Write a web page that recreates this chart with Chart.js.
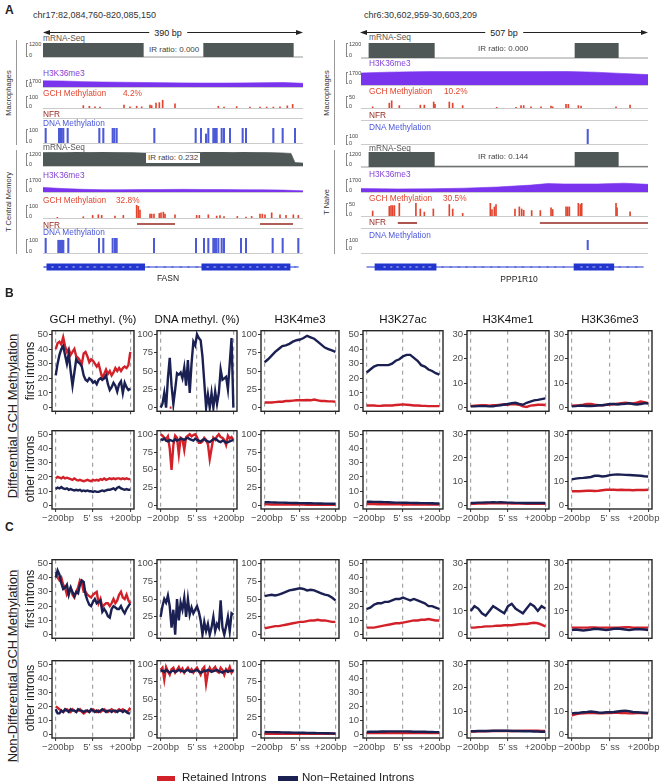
<!DOCTYPE html>
<html><head><meta charset="utf-8">
<script src="https://cdn.jsdelivr.net/npm/chart.js@4.4.0/dist/chart.umd.min.js"></script>
<style>
html,body{margin:0;padding:0;background:#fff;}
#root{position:relative;width:662px;height:784px;overflow:hidden;font-family:"Liberation Sans",Arial,Helvetica,sans-serif;color:#222;background:#fff;}
.t{position:absolute;white-space:nowrap;line-height:1;}
canvas{position:absolute;}
.ln{position:absolute;}
</style></head><body><div id="root"></div>
<script>
// ================= DATA =================
// ---- Panel A: FASN (left, 390 bp) ----
const MRNA_MAC_L_X=[0,0,150,150,241,241,375,375,390];
const MRNA_MAC_L_Y=[0,1200,1200,0,0,1200,1200,0,0];
const MRNA_TCM_L_X=[0,15,30,50,70,90,110,130,150,170,190,210,230,241,255,270,285,300,320,340,360,372,378,390];
const MRNA_TCM_L_Y=[1150,1180,1160,1190,1170,1200,1180,1160,1120,1090,1100,1120,1150,1200,1190,1200,1180,1190,1170,1150,1120,1080,300,250];
const H3_L_X=[0,30,60,90,120,150,180,210,240,270,300,330,360,390];
const H3_MAC_L_Y=[1500,1450,1300,1200,1150,1100,1050,1000,950,950,1000,1050,1100,900];
const H3_TCM_L_Y=[600,450,350,300,300,320,330,350,330,320,300,280,250,150];
const GCH_MAC_L_X=[60.5,69.5,78,85.5,121.5,130.5,140.5,148,160.5,163,169.5,174.5,179.5,198,263,271.5,290.5,310.5,325.5,335.5,345.5,355.5,366.5,374.5];
const GCH_MAC_L_Y=[20,15,10,8,25,10,15,10,25,20,40,45,65,35,15,8,12,8,8,8,8,10,18,30];
const GCH_TCM_L_X=[21.5,60.5,74.5,83,88,108,120.5,140.5,143,145.5,160.5,163,166.5,174.5,177,180.5,183,198,230.5,234.5,248,260.5,265.5,271.5,291.5,304.5,313,325.5,329,333,343,355.5,364.5,375.5,383];
const GCH_TCM_L_Y=[5,10,20,25,20,15,20,100,90,60,30,30,30,35,40,45,30,25,20,20,25,15,18,10,12,8,12,30,30,25,40,25,20,25,20];
const DNA_MAC_L_X=[4,24,26,28,30.5,37,84.5,90.5,104.5,107,110.5,167,229,237,244.5,248,255.5,258,260.5,268,271.5,280.5,299.5,304.5,345.5,359.5,378];
const DNA_MAC_L_Y=[100,100,100,100,100,100,100,100,100,100,100,100,100,100,60,100,100,100,100,100,100,100,100,100,100,100,100];
const DNA_TCM_L_X=[4,23,24.5,26.5,28.5,30.5,38,84,90.5,104.5,108,110.5,166.5,229.5,241.5,248,255.5,257,259.5,263,268,271.5,297,304.5,344.5,359.5,383];
const DNA_TCM_L_Y=[100,85,85,85,85,85,100,100,100,100,100,100,100,100,100,100,100,100,100,100,100,100,100,100,100,100,100];
const NFR_TCM_L=[[141,198],[325.5,375]];
const GENE_L_LINE=[-6,391];
const GENE_L_EXONS=[[-2,151.5],[239.5,378]];
const GENE_L_CHEV_IN=[8,19,30,41,52,63,74,85,96,107,118,129,140,250,261,272,283,294,305,316,327,338,349,360,371];
const GENE_L_CHEV_OUT=[-5,158,170,183,195,208,220,233,386];
// ---- Panel A: PPP1R10 (right, 507 bp) ----
const MRNA_MAC_R_X=[0,14,14,129,129,378,378,454,454,507];
const MRNA_MAC_R_Y=[0,0,1200,1200,0,0,1200,1200,0,0];
const MRNA_TN_R_Y=[0,0,1200,1200,70,70,1200,1200,50,50];
const H3_MAC_R_X=[0,46,92,138,184,230,276,322,368,414,460,507];
const H3_MAC_R_Y=[1500,1600,1650,1700,1700,1700,1700,1700,1680,1600,1450,1300];
const H3_TN_R_X=[0,65,124,182,241,300,330,359,418,465,507];
const H3_TN_R_Y=[450,400,420,500,650,900,1100,1050,1050,1150,1000];
const GCH_MAC_R_X=[20.6,50,54.2,67.7,104.8,111.9,128.4,130.7,156,162,179.6,239.7,273.8,282.7,287.4,300.3,318,335.7,338.6,362.2,366.3,384,388.7,450.5,475.3];
const GCH_MAC_R_Y=[5,20,30,10,12,12,25,15,25,20,10,3,3,10,10,5,5,8,5,15,15,10,8,5,12];
const GCH_TN_R_X=[20.6,50,53,56,59,67.7,97,104.8,111.9,127.8,156,162,179.6,228.5,231.4,235.6,238.5,272,279.7,283.8,287.4,301.5,316.8,335.7,338.6,362.2,365.1,368.1,384,387.5,389.9,450.5,452.3,475.3];
const GCH_TN_R_Y=[19,37,40,40,40,50,50,27,15,27,44,27,10,50,25,35,44,27,35,27,22,21,21,31,25,35,35,35,50,44,50,50,31,16];
const DNA_R_X=[400.5];
const DNA_MAC_R_Y=[100];
const DNA_TN_R_Y=[100];
const NFR_TN_R=[[65,99],[316,507]];
const GENE_R_LINE=[1,508];
const GENE_R_EXONS=[[16,129],[380,454]];
const GENE_R_CHEV_IN=[35,47,59,71,82,94,106,118,395,406,418,430,442];
const GENE_R_CHEV_OUT=[141,156,171,185,200,215,230,244,259,274,288,303,318,333,347,362,465,480,495];

// ---- Panels B & C ----
const POS41=[-200,-190,-180,-170,-160,-150,-140,-130,-120,-110,-100,-90,-80,-70,-60,-50,-40,-30,-20,-10,0,10,20,30,40,50,60,70,80,90,100,110,120,130,140,150,160,170,180,190,200];
const POS21=[-200,-180,-160,-140,-120,-100,-80,-60,-40,-20,0,20,40,60,80,100,120,140,160,180,200];
const COL_TITLES=['GCH methyl. (%)','DNA methyl. (%)','H3K4me3','H3K27ac','H3K4me1','H3K36me3'];
const Y_MAX=[50,100,100,50,30,30];
const Y_TICKS=[[0,10,20,30,40,50],[0,25,50,75,100],[0,25,50,75,100],[0,10,20,30,40,50],[0,10,20,30],[0,10,20,30]];
const X_TICKS=[-200,0,200];
const X_TICK_LABELS=['\u2002\u2212200bp','5\u2019 ss','+200bp\u2002\u2002'];
const SERIES_NAMES=['Retained Introns','Non\u2212Retained Introns'];

// B: differential, first introns
const B1_RET_GCH=[40,44,45,43,48,42,38,40,36,38,40,35,34,32,30,37,38,35,31,33,32,30,28,30,25,20,23,26,23,25,22,24,27,25,27,25,27,28,27,29,38];
const B1_NON_GCH=[22,30,36,40,42,36,30,37,25,15,24,33,31,30,28,22,19,18,20,19,17,18,16,19,20,19,20,22,16,12,14,17,15,11,16,18,10,17,14,12,13];
const B1_RET_DNA=[null,null,null,null,null,0,0,null,null,null,null,null,null,null,null,null,null,null,null,null,null,null,null,null,null,null,null,null,null,null,null,null,null,null,null,null,null,null,null,null,null];
const B1_NON_DNA=[0,5,20,0,40,68,30,5,25,47,45,48,40,55,30,65,20,60,90,85,100,95,92,70,35,0,18,0,20,0,22,5,20,52,38,40,42,25,60,95,0];
const B1_RET_K4ME3=[7,7,7,7.5,8,8,9,9,9.5,10,10,10,10.5,10,11,10,9,9,8.5,8.5,8];
const B1_NON_K4ME3=[62,66,71,76,80,84,85,87,90,92,93,95,98,96,94,90,86,82,80,78,76];
const B1_RET_K27AC=[1.5,1.5,1.5,1.2,1.3,1.5,1.5,1.5,1.8,2,2.2,2,1.8,1.5,1.5,1.3,1.2,1,1,1,1];
const B1_NON_K27AC=[24,26,28,29,29,29,29,30,32,33,35,36,36,34,32,29,28,26,25,23.5,22.5];
const B1_RET_K4ME1=[0.6,0.8,0.9,1,1,0.8,1,1,1.2,1.3,1.2,1.5,1.4,1.2,0.5,0.3,0.8,1,1.2,1.2,1.1];
const B1_NON_K4ME1=[0.5,0.5,0.6,0.6,0.6,0.5,0.5,0.8,1,1.3,1.5,1.8,2,1.5,1.2,2,2.5,3,3.2,3.5,3.8];
const B1_RET_K36ME3=[0.8,0.9,1,1.2,1.5,1.5,1.2,1,1,1.2,1.3,1.4,1.6,1.8,2,1.8,1.7,2,2.5,2.2,1.8];
const B1_NON_K36ME3=[0.5,0.6,0.8,0.8,0.7,0.7,0.8,1,1,1.2,1.5,1.5,1.3,1.5,1.6,1.8,1.5,1.3,1.5,1.8,1.8];
// B: differential, other introns
const B2_RET_GCH=[19,20,19.5,19,20,19,19.5,19,18.5,18,19,18,17.5,18,17.5,17,17.5,18,17.5,17,18,17.5,18,17.5,18.5,18,19,18,18.5,19,18.5,19,18.5,19,19,18.5,19,18.5,19,18.5,18.5];
const B2_NON_GCH=[11.5,12.5,12,13,12,11.5,12,11,11.5,11,10.5,11,10.5,11,10,10.5,10,10.5,10,10,9.5,10,9.5,9.5,10,10.5,10,10.5,11,11,11.5,12,11,12.5,13,12,11.5,11,11.5,11,11];
const B2_RET_DNA=[100,98,95,93,97,80,50,85,98,95,72,95,93,78,96,98,100,97,99,100,96,88,88,90,95,92,86,65,80,95,92,97,100,96,95,92,85,98,94,96,92];
const B2_NON_DNA=[93,92,94,91,90,92,91,90,93,91,92,94,93,92,94,95,93,92,91,94,92,91,90,92,93,91,90,89,91,93,94,92,90,89,91,90,88,89,90,91,92];
const B2_RET_K4ME3=[1.5,1.5,1.4,1.4,1.3,1.3,1.2,1.2,1.2,1.1,1.1,1.1,1,1,1,1,1,1,1,1,1];
const B2_NON_K4ME3=[4.5,4.4,4.3,4.2,4,3.9,3.8,3.6,3.5,3.4,3.3,3.2,3.1,3,2.9,2.8,2.7,2.6,2.5,2.4,2.3];
const B2_RET_K27AC=[0.9,0.9,0.9,0.8,0.8,0.8,0.8,0.8,0.8,0.8,0.7,0.7,0.7,0.7,0.7,0.7,0.7,0.7,0.7,0.7,0.7];
const B2_NON_K27AC=[2.6,2.6,2.5,2.5,2.4,2.3,2.2,2.1,2,2,1.9,1.9,1.8,1.7,1.7,1.6,1.6,1.5,1.5,1.4,1.4];
const B2_RET_K4ME1=[0.7,0.7,0.8,0.8,0.8,0.9,0.9,0.9,0.9,0.9,0.9,0.8,0.8,0.8,0.8,0.7,0.7,0.7,0.7,0.7,0.7];
const B2_NON_K4ME1=[1,1.1,1.2,1.2,1.3,1.3,1.4,1.3,1.4,1.3,1.2,1.2,1.1,1.1,1,1,1,1,1,1,1];
const B2_RET_K36ME3=[6,6,6,6.1,6.2,6.2,6.1,6.2,6.4,6.6,6.6,6.6,6.5,6.6,6.5,6.5,6.4,6.5,6.5,6.5,6.6];
const B2_NON_K36ME3=[11,11.3,11.5,11.6,11.8,12,12.5,12.5,12.2,12.4,12.8,13,13.1,13,12.9,12.8,12.7,12.6,12.5,12.3,12.2];
// C: non-differential, first introns
const C1_RET_GCH=[44,40,38,40,35,33,28,30,33,28,26,30,33,38,36,30,30,28,27,26,28,29,30,22,25,19,21,22,22,20,22,25,22,24,28,30,26,25,28,24,22];
const C1_NON_GCH=[40,45,42,36,32,33,35,28,33,30,27,30,29,35,38,37,28,24,21,20,23,25,22,23,24,16,18,16,13,12,18,20,19,18,18,20,17,15,18,20,22];
const C1_RET_DNA=[null,null,null,null,null,null,null,null,null,null,null,null,null,null,null,null,null,null,null,null,null,null,null,null,null,null,null,null,null,null,null,null,null,null,null,null,null,null,null,null,null];
const C1_NON_DNA=[25,40,50,45,55,40,10,35,0,50,20,45,35,52,25,50,28,38,30,35,40,32,20,0,18,5,15,0,10,25,5,15,10,48,10,0,12,25,5,30,28];
const C1_RET_K4ME3=[9,10,11,12,12,13,14,15,16,17,18,18,19,20,20,21,20,20,19,18,18];
const C1_NON_K4ME3=[54,55,56,55,56,58,60,62,63,64,65,64,62,63,62,60,58,56,55,52,48];
const C1_RET_K27AC=[5,5,5,5.5,6,6.5,7,7.5,8,8,8.5,9,9.5,10,10,10.5,10.5,11,10.5,10,10];
const C1_NON_K27AC=[18,19,21,22,22,23,23,24,25,25,26,25,24,25,24,23,22,20,20,19,18];
const C1_RET_K4ME1=[3,3,3.2,3.3,3.5,3.5,3.6,3.8,3.8,4,4,4,4.2,4.4,4.5,4.5,4.8,5,4.8,4.2,3.5];
const C1_NON_K4ME1=[10,12,11,9,8,10,12,11,10,9,12,13,11,10,9,11,13,12,10,12,11];
const C1_RET_K36ME3=[3,3,3,3,3,3.1,3.1,3,3,3,3,3,3,3.1,3.2,3.2,3,3,3,3,3];
const C1_NON_K36ME3=[2,2.2,2,1.8,2,2.2,2.5,2.4,2.2,2,2.2,2.5,2.6,2.4,2.2,2,2.2,2.4,2.3,2.2,2];
// C: non-differential, other introns
const C2_RET_GCH=[20,19,18,17,16,17,18,17,16,18,17,16,17,18,16,15,16,17,16,17,18,17,16,17,16,17,18,17,16,17,18,17,16,17,18,17,18,17,16,17,19];
const C2_NON_GCH=[18,15,15,17,16,18,17,16,18,17,17,16,18,17,17,16,17,17,16,18,17,16,17,16,17,18,17,16,17,17,16,17,17,16,17,17,16,17,16,15,15];
const C2_RET_DNA=[92,95,78,96,90,85,93,95,88,92,96,90,94,88,92,95,90,93,88,92,95,90,85,93,96,72,88,95,90,93,96,90,88,95,92,85,93,90,96,88,92];
const C2_NON_DNA=[90,91,89,92,90,88,90,91,89,90,92,91,90,89,91,92,90,89,90,91,92,90,88,89,91,90,92,91,89,90,91,92,90,89,88,90,91,89,90,91,90];
const C2_RET_K4ME3=[1,1,1,1,1,1,1,1,1,1,1,1,1,1,1,1,1,1,1,1,1];
const C2_NON_K4ME3=[3.5,3.4,3.3,3.2,3.1,3,2.9,2.8,2.7,2.6,2.5,2.4,2.3,2.2,2.1,2,1.9,1.8,1.7,1.6,1.5];
const C2_RET_K27AC=[1,1,1,1,1.1,1.1,1.1,1.1,1.1,1.1,1.1,1.1,1,1,1,1,1,1,1,1,1];
const C2_NON_K27AC=[1.8,1.9,2,2,2.1,2.1,2.2,2.2,2.2,2.2,2.2,2.2,2.1,2,2,1.9,1.9,1.8,1.8,1.7,1.7];
const C2_RET_K4ME1=[1.3,1.3,1.4,1.4,1.4,1.5,1.5,1.5,1.5,1.5,1.5,1.5,1.5,1.5,1.6,1.6,1.6,1.6,1.6,1.5,1.5];
const C2_NON_K4ME1=[1.4,1.4,1.5,1.5,1.5,1.5,1.6,1.6,1.6,1.6,1.6,1.5,1.5,1.5,1.4,1.4,1.4,1.3,1.3,1.2,1.2];
const C2_RET_K36ME3=[8.2,8.6,8.9,9,9.1,9.2,9.1,9,9,9.1,9.2,9.3,9.3,9.2,9.1,9,9,9.1,9.1,9,9];
const C2_NON_K36ME3=[9,9.2,9.3,9.5,9.6,9.8,9.6,9.4,9.3,9.5,9.5,9.6,9.8,10,10.2,9.9,9.6,9.5,9.4,9.3,9.2];

// ================= RENDER =================
const FONT="'Liberation Sans', Arial, Helvetica, sans-serif";
const RED='#d3212a', NAVY='#1b2052';
const C_GRAY='#4f5856', C_PURPLE='#7a34ee', C_PURPLE_T='#8443d6', C_GCH='#e2452f', C_NFR='#962a20', C_DNA='#4c59d8', C_GENE='#2236cf';
const root=document.getElementById('root');
function T(x,y,s,o={}){const d=document.createElement('div');d.className='t';d.textContent=s;
  d.style.fontSize=(o.size||9)+'px';d.style.color=o.color||'#222';if(o.bold)d.style.fontWeight='bold';
  d.style.left=x+'px';d.style.top=y+'px';
  const tx=o.align==='center'?'-50%':(o.align==='right'?'-100%':'0');
  d.style.transform=o.rot?'translate(-50%,-50%) rotate(-90deg)':`translate(${tx},-50%)`;
  if(o.bg){d.style.background=o.bg;d.style.padding=o.pad||'1px 2px';}
  if(o.underline){d.style.textDecoration='underline';d.style.textDecorationColor='#777';}
  root.appendChild(d);return d;}
function L(x,y,w,h,c){const d=document.createElement('div');d.className='ln';Object.assign(d.style,{left:x+'px',top:y+'px',width:w+'px',height:h+'px',background:c});root.appendChild(d);return d;}
function cv(x,y,w,h){const c=document.createElement('canvas');c.width=w;c.height=h;Object.assign(c.style,{left:x+'px',top:y+'px',width:w+'px',height:h+'px'});root.appendChild(c);return c;}
function zip(xs,ys){return xs.map((v,i)=>({x:v,y:ys[i]}));}
function base(){return {responsive:false,maintainAspectRatio:false,animation:false,events:[],devicePixelRatio:1,
  plugins:{legend:{display:false},tooltip:{enabled:false}},layout:{padding:0}};}

// ---------- Panel A ----------
const AL={x:43,w:260,span:390}, AR={x:361,w:287,span:507};
function trackChart(col,top,h,ymin,ymax,datasets,type){
  const o=base();
  o.scales={x:{type:'linear',min:0,max:col.span,display:false,offset:false},y:{type:'linear',min:ymin,max:ymax,display:false}};
  return new Chart(cv(col.x,top,col.w,h),{type:type,data:{datasets},options:o});
}
function area(col,top,h,xs,ys,ymax,color){
  trackChart(col,top,h,0,ymax,[{type:'line',data:zip(xs,ys),fill:'origin',backgroundColor:color,borderColor:color,borderWidth:0.6,pointRadius:0,tension:0}],'line');
}
function bars(col,top,h,xs,ys,ymax,color,th){
  trackChart(col,top,h,0,ymax,[{type:'bar',data:zip(xs,ys),backgroundColor:color,barThickness:th,borderWidth:0}],'bar');
}
function nfr(col,top,segs){
  const ds=segs.map(s=>({type:'line',data:[{x:s[0],y:0},{x:s[1],y:0}],borderColor:C_NFR,borderWidth:1.6,pointRadius:0,borderCapStyle:'butt'}));
  trackChart(col,top,4,-1,1,ds,'line');
}
function sep(col,y){L(col.x,y,col.w,1,'#cbcbcb');}
function scaleLbl(bx,top,h,maxS){
  const d=L(bx,top,2,h,'transparent');d.style.border='0.8px solid #888';d.style.borderRight='none';d.style.boxSizing='border-box';
  T(bx+3,top+1.5,maxS,{size:5.5,color:'#444'});T(bx+3,top+h-1.5,'0',{size:5.5,color:'#444'});
}
function chev(color){const c=document.createElement('canvas');c.width=4;c.height=5;const g=c.getContext('2d');g.strokeStyle=color;g.lineWidth=0.9;g.beginPath();g.moveTo(3,0.5);g.lineTo(1,2.5);g.lineTo(3,4.5);g.stroke();return c;}
function gene(cx,cw,top,xmin,xmax,line,exons,chIn,chOut){
  const ds=[];
  ds.push({type:'line',showLine:false,data:chIn.map(v=>({x:v,y:0})),pointStyle:chev('#ffffff'),pointRadius:3});
  ds.push({type:'line',showLine:false,data:chOut.map(v=>({x:v,y:0})),pointStyle:chev(C_GENE),pointRadius:3});
  exons.forEach(e=>ds.push({type:'line',showLine:true,data:[{x:e[0],y:0},{x:e[1],y:0}],borderColor:C_GENE,borderWidth:7,borderCapStyle:'butt',pointRadius:0,clip:false}));
  ds.push({type:'line',showLine:true,data:[{x:line[0],y:0},{x:line[1],y:0}],borderColor:C_GENE,borderWidth:1.2,pointRadius:0});
  const o=base();o.scales={x:{type:'linear',min:xmin,max:xmax,display:false},y:{type:'linear',min:-1,max:1,display:false}};
  new Chart(cv(cx,top,cw,12),{type:'line',data:{datasets:ds},options:o});
}

// headings
T(5,10,'A',{size:12,bold:true});
T(33,15,'chr17:82,084,760-820,085,150',{size:9,color:'#333'});
T(364,15,'chr6:30,602,959-30,603,209',{size:9,color:'#333'});
function bpArrow(x1,x2,y,label,cx){
  L(x1+4,y,x2-x1-8,1,'#222');
  const s=document.createElementNS('http://www.w3.org/2000/svg','svg');
  s.setAttribute('width',662);s.setAttribute('height',60);s.style.position='absolute';s.style.left='0';s.style.top='0';
  s.innerHTML=`<polygon points="${x1},${y+0.5} ${x1+7},${y-2} ${x1+7},${y+3}" fill="#222"/><polygon points="${x2},${y+0.5} ${x2-7},${y-2} ${x2-7},${y+3}" fill="#222"/>`;
  root.appendChild(s);
  T(cx,y+0.5,label,{size:9,color:'#222',align:'center',bg:'#fff',pad:'0 5px'});
}
bpArrow(43,303,32,'390 bp',168);
bpArrow(360,648,32,'507 bp',504);

// row labels for A
function rowLab(x,lx,y1,y2,s){L(lx,y1,1,y2-y1,'#999');T(x,(y1+y2)/2,s,{size:7.5,color:'#333',rot:true});}
rowLab(9,16,40,145,'Macrophages');
rowLab(9,16,150,254,'T Central Memory');
rowLab(327,334,40,145,'Macrophages');
rowLab(327,334,150,254,'T Naive');

// ---- Left column ----
T(43,38,'mRNA-Seq',{size:8.3,color:'#555'});
area(AL,43,14,MRNA_MAC_L_X,MRNA_MAC_L_Y,1200,C_GRAY); sep(AL,57); scaleLbl(26,43,14,'1200');
T(147,50,'IR ratio: 0.000',{size:8,color:'#444',bg:'#fff'});
T(43,73,'H3K36me3',{size:8.3,color:C_PURPLE_T});
area(AL,80,7,H3_L_X,H3_MAC_L_Y,1700,C_PURPLE); sep(AL,87); scaleLbl(26,80,7,'1700');
T(43,93,'GCH Methylation',{size:8.3,color:C_GCH}); T(123,93,'4.2%',{size:8.3,color:C_GCH});
bars(AL,96,12,GCH_MAC_L_X,GCH_MAC_L_Y,100,C_GCH,1); sep(AL,108); scaleLbl(26,96,12,'100');
T(43,114,'NFR',{size:8.3,color:C_NFR}); sep(AL,118);
T(43,123,'DNA Methylation',{size:8.3,color:C_DNA});
bars(AL,128,15,DNA_MAC_L_X,DNA_MAC_L_Y,100,C_DNA,1.4); sep(AL,143); scaleLbl(26,129,14,'100');
T(43,147,'mRNA-Seq',{size:8.3,color:'#555'});
area(AL,152,14,MRNA_TCM_L_X,MRNA_TCM_L_Y,1200,C_GRAY); sep(AL,166); scaleLbl(26,153,13,'1200');
T(146,158,'IR ratio: 0.232',{size:8,color:'#444',bg:'#fff'});
T(43,175,'H3K36me3',{size:8.3,color:C_PURPLE_T});
area(AL,179,13,H3_L_X,H3_TCM_L_Y,1700,C_PURPLE); sep(AL,192); scaleLbl(26,179,13,'1700');
T(43,200,'GCH Methylation',{size:8.3,color:C_GCH}); T(116,200,'32.8%',{size:8.3,color:C_GCH});
bars(AL,205,13,GCH_TCM_L_X,GCH_TCM_L_Y,100,C_GCH,1); sep(AL,218); scaleLbl(26,205,13,'100');
T(43,225,'NFR',{size:8.3,color:C_NFR}); nfr(AL,222,NFR_TCM_L); sep(AL,228);
T(43,232,'DNA Methylation',{size:8.3,color:C_DNA});
bars(AL,238,15,DNA_TCM_L_X,DNA_TCM_L_Y,100,C_DNA,1.4); sep(AL,253); scaleLbl(26,239,14,'100');
gene(37,268,261,-9,393,GENE_L_LINE,GENE_L_EXONS,GENE_L_CHEV_IN,GENE_L_CHEV_OUT);
T(168,278,'FASN',{size:8.5,color:'#222',align:'center'});

// ---- Right column ----
T(369,37,'mRNA-Seq',{size:8.3,color:'#555'});
area(AR,43,15,MRNA_MAC_R_X,MRNA_MAC_R_Y,1200,C_GRAY); sep(AR,58); scaleLbl(346,43,14,'1200');
T(478,49,'IR ratio: 0.000',{size:8,color:'#444'});
T(369,63,'H3K36me3',{size:8.3,color:C_PURPLE_T});
area(AR,71,14,H3_MAC_R_X,H3_MAC_R_Y,1750,C_PURPLE); sep(AR,85); scaleLbl(346,72,12,'1700');
T(369,91,'GCH Methylation',{size:8.3,color:C_GCH}); T(444,91,'10.2%',{size:8.3,color:C_GCH});
bars(AR,96,12,GCH_MAC_R_X,GCH_MAC_R_Y,50,C_GCH,1); sep(AR,108); scaleLbl(346,96,12,'50');
T(369,115,'NFR',{size:8.3,color:C_NFR}); sep(AR,120);
T(369,127,'DNA Methylation',{size:8.3,color:C_DNA});
bars(AR,129,15,DNA_R_X,DNA_MAC_R_Y,100,C_DNA,1.4); sep(AR,144); scaleLbl(346,135,10,'100');
T(369,148,'mRNA-Seq',{size:8.3,color:'#555'});
area(AR,152,15,MRNA_MAC_R_X,MRNA_TN_R_Y,1200,C_GRAY); sep(AR,167); scaleLbl(346,153,13,'1200');
T(478,157,'IR ratio: 0.144',{size:8,color:'#444'});
T(369,174,'H3K36me3',{size:8.3,color:C_PURPLE_T});
area(AR,179,13,H3_TN_R_X,H3_TN_R_Y,1700,C_PURPLE); sep(AR,192); scaleLbl(346,179,13,'1700');
T(369,198,'GCH Methylation',{size:8.3,color:C_GCH}); T(443,198,'30.5%',{size:8.3,color:C_GCH});
bars(AR,203,13,GCH_TN_R_X,GCH_TN_R_Y,50,C_GCH,1); sep(AR,216); scaleLbl(346,203,13,'50');
T(369,222,'NFR',{size:8.3,color:C_NFR}); nfr(AR,221,NFR_TN_R); sep(AR,228);
T(369,235,'DNA Methylation',{size:8.3,color:C_DNA});
bars(AR,240,10,DNA_R_X,DNA_TN_R_Y,100,C_DNA,1.4); sep(AR,253); scaleLbl(346,239,11,'100');
gene(359,292,261,-3.5,512.3,GENE_R_LINE,GENE_R_EXONS,GENE_R_CHEV_IN,GENE_R_CHEV_OUT);
T(519,279,'PPP1R10',{size:8.5,color:'#222',align:'center'});

// ---------- Panels B & C ----------
const COLS=[[52,134],[157,237],[261,339],[363,443],[467,549],[568,652]];
const ROWS={B1:[329,413],B2:[429,509],C1:[558,640],C2:[659,738]};
const frame={id:'frame',afterDatasetsDraw(ch){const {ctx,chartArea:a}=ch;ctx.save();ctx.strokeStyle='#262626';ctx.lineWidth=1.4;ctx.strokeRect(a.left,a.top,a.right-a.left,a.bottom-a.top);ctx.restore();}};
function profile(col,rowKey,showX,ret,non){
  const [L0,R0]=COLS[col],[T0,B0]=ROWS[rowKey];
  const padL=30,padT=5,padR=20,xh=showX?16:5;
  const pos=ret.length===41?POS41:POS21;
  const ymax=Y_MAX[col];
  const o=base();
  o.layout={padding:{top:padT,right:padR,left:0,bottom:0}};
  o.scales={
    x:{type:'linear',min:-220,max:220,
      afterBuildTicks:a=>{a.ticks=X_TICKS.map(v=>({value:v}));},
      afterFit:a=>{a.height=xh;},
      grid:{display:true,drawOnChartArea:true,drawTicks:true,tickLength:3,color:'#a3a3a3',lineWidth:1.2,tickColor:'#333',tickWidth:1,tickBorderDash:[]},
      border:{display:false,dash:[4,4]},
      ticks:{display:showX,autoSkip:false,maxRotation:0,minRotation:0,padding:1,color:'#4d4d4d',font:{size:9.5,family:FONT},
        callback:(v)=>X_TICK_LABELS[X_TICKS.indexOf(v)]}},
    y:{type:'linear',min:-ymax*0.05,max:ymax*1.05,
      afterBuildTicks:a=>{a.ticks=Y_TICKS[col].map(v=>({value:v}));},
      afterFit:a=>{a.width=padL;},
      grid:{display:true,drawOnChartArea:false,drawTicks:true,tickLength:3,tickColor:'#333'},
      border:{display:false},
      ticks:{autoSkip:false,padding:1,color:'#4d4d4d',font:{size:9.5,family:FONT}}}
  };
  const ds=[
    {label:SERIES_NAMES[1],data:zip(pos,non),borderColor:NAVY,borderWidth:2.4,pointRadius:0,tension:0,spanGaps:false},
    {label:SERIES_NAMES[0],data:zip(pos,ret),borderColor:RED,borderWidth:2.4,pointRadius:0,tension:0,spanGaps:false}
  ];
  new Chart(cv(L0-padL,T0-padT,(R0-L0)+padL+padR,(B0-T0)+padT+xh),{type:'line',data:{datasets:ds},options:o,plugins:[frame]});
}
const GRID={
  B1:[[B1_RET_GCH,B1_NON_GCH],[B1_RET_DNA,B1_NON_DNA],[B1_RET_K4ME3,B1_NON_K4ME3],[B1_RET_K27AC,B1_NON_K27AC],[B1_RET_K4ME1,B1_NON_K4ME1],[B1_RET_K36ME3,B1_NON_K36ME3]],
  B2:[[B2_RET_GCH,B2_NON_GCH],[B2_RET_DNA,B2_NON_DNA],[B2_RET_K4ME3,B2_NON_K4ME3],[B2_RET_K27AC,B2_NON_K27AC],[B2_RET_K4ME1,B2_NON_K4ME1],[B2_RET_K36ME3,B2_NON_K36ME3]],
  C1:[[C1_RET_GCH,C1_NON_GCH],[C1_RET_DNA,C1_NON_DNA],[C1_RET_K4ME3,C1_NON_K4ME3],[C1_RET_K27AC,C1_NON_K27AC],[C1_RET_K4ME1,C1_NON_K4ME1],[C1_RET_K36ME3,C1_NON_K36ME3]],
  C2:[[C2_RET_GCH,C2_NON_GCH],[C2_RET_DNA,C2_NON_DNA],[C2_RET_K4ME3,C2_NON_K4ME3],[C2_RET_K27AC,C2_NON_K27AC],[C2_RET_K4ME1,C2_NON_K4ME1],[C2_RET_K36ME3,C2_NON_K36ME3]]
};
Object.keys(GRID).forEach(k=>{GRID[k].forEach((p,i)=>profile(i,k,k==='B2'||k==='C2',p[0],p[1]));});

T(5,293,'B',{size:12,bold:true});
T(5,527,'C',{size:12,bold:true});
COL_TITLES.forEach((s,i)=>T((COLS[i][0]+COLS[i][1])/2,320,s,{size:11.5,color:'#111',align:'center'}));
T(30,371,'first introns',{size:12,color:'#222',rot:true});
T(30,469,'other introns',{size:12,color:'#222',rot:true});
T(30,599,'first introns',{size:12,color:'#222',rot:true});
T(30,698,'other introns',{size:12,color:'#222',rot:true});
T(12,416,'Differential GCH Methylation',{size:13,color:'#222',rot:true,underline:true});
T(12,666,'Non-Differential GCH Methylation',{size:13,color:'#222',rot:true,underline:true});

// legend
L(157,776,18,5,RED); T(182,778,SERIES_NAMES[0],{size:11.5,color:'#222'});
L(278,776,20,5,NAVY); T(302,778,SERIES_NAMES[1],{size:11.5,color:'#222'});
</script></body></html>
